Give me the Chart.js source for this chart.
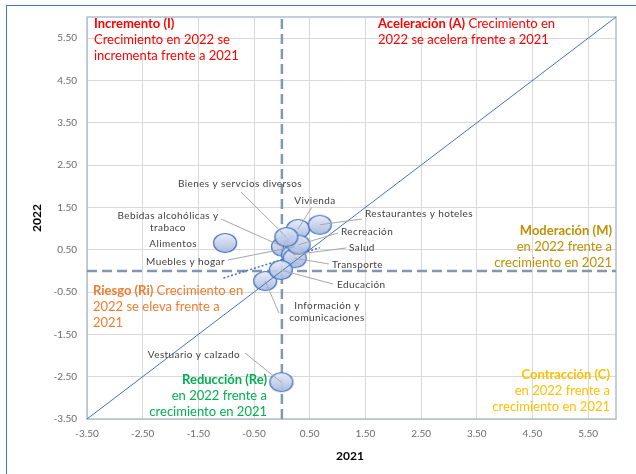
<!DOCTYPE html>
<html>
<head>
<meta charset="utf-8">
<script src="https://cdn.jsdelivr.net/npm/chart.js@4.4.0/dist/chart.umd.min.js"></script>
<style>
  html, body { margin: 0; padding: 0; background: #fff; overflow: hidden; }
  #wrap { position: relative; width: 636px; height: 474px; }
  #frame { position: absolute; left: 6px; top: 5px; width: 700px; height: 600px; border: 1px solid #4472c4; }
  canvas { position: absolute; left: 0; top: 0; }
</style>
</head>
<body>
<div id="wrap">
  <div id="frame"></div>
  <canvas id="chart" width="636" height="474"></canvas>
</div>
<script>
// data
const categories = [
  'Alimentos', 'Bebidas alcohólicas y trabaco', 'Vestuario y calzado', 'Vivienda',
  'Muebles y hogar', 'Salud', 'Transporte', 'Información y comunicaciones',
  'Recreación', 'Educación', 'Restaurantes y hoteles', 'Bienes y servcios diversos'
];
const growth2021 = [-1.02, 0.02, -0.01, 0.29, 0.23, 0.20, 0.23, -0.30, 0.30, -0.02, 0.68, 0.08];
const growth2022 = [0.66, 0.57, -2.63, 0.99, 0.57, 0.38, 0.30, -0.24, 0.62, 0.02, 1.09, 0.80];
const tickValues = [-3.5, -2.5, -1.5, -0.5, 0.5, 1.5, 2.5, 3.5, 4.5, 5.5];
const trendX = [-1.05, 0.68];
const trendY = [-0.17, 0.55];

const FONT = 'Lato, "Open Sans", sans-serif';

// label placement (pixels) for each category, same order as categories
const labelSpots = [
  { lines: ['Alimentos'], x: 197, y: 244, align: 'right' },
  { lines: ['Bebidas alcohólicas y', 'trabaco'], x: 168, y: 216, align: 'center', from: [221, 219] },
  { lines: ['Vestuario y calzado'], x: 240, y: 355, align: 'right', from: [245, 353] },
  { lines: ['Vivienda'], x: 315, y: 201, align: 'center', from: [312, 207] },
  { lines: ['Muebles y hogar'], x: 225, y: 262, align: 'right', from: [228, 260] },
  { lines: ['Salud'], x: 349, y: 248, align: 'left', from: [346, 248] },
  { lines: ['Transporte'], x: 332, y: 265, align: 'left', from: [329, 264] },
  { lines: ['Información y', 'comunicaciones'], x: 327, y: 306, align: 'center', from: [279, 313] },
  { lines: ['Recreación'], x: 341, y: 232, align: 'left', from: [338, 233] },
  { lines: ['Educación'], x: 337, y: 285, align: 'left', from: [333, 284] },
  { lines: ['Restaurantes y hoteles'], x: 365, y: 214, align: 'left', from: [362, 219] },
  { lines: ['Bienes y servcios diversos'], x: 240, y: 184, align: 'center', from: [241, 192] }
];

const quadrants = [
  { x: 94, y: 24, align: 'left', color: '#ff0000',
    lines: [[['Incremento (I)', true]], [['Crecimiento en 2022 se']], [['incrementa frente a 2021']]] },
  { x: 378, y: 24, align: 'left', color: '#ff0000',
    lines: [[['Aceleración (A)', true], [' Crecimiento en']], [['2022 se acelera frente a 2021']]] },
  { x: 612, y: 231, align: 'right', color: '#bf9000',
    lines: [[['Moderación (M)', true]], [['en 2022 frente a']], [['crecimiento en 2021']]] },
  { x: 93, y: 291, align: 'left', color: '#ed7d31',
    lines: [[['Riesgo (Ri)', true], [' Crecimiento en']], [['2022 se eleva frente a']], [['2021']]] },
  { x: 267, y: 380, align: 'right', color: '#00b050',
    lines: [[['Reducción (Re)', true]], [['en 2022 frente a']], [['crecimiento en 2021']]] },
  { x: 610, y: 375, align: 'right', color: '#ffc000',
    lines: [[['Contracción (C)', true]], [['en 2022 frente a']], [['crecimiento en 2021']]] }
];

function makeBubble() {
  const c = document.createElement('canvas');
  c.width = 26; c.height = 22;
  const g = c.getContext('2d');
  const grad = g.createLinearGradient(0, 1, 0, 21);
  grad.addColorStop(0, 'rgba(232,237,248,0.92)');
  grad.addColorStop(1, 'rgba(164,183,221,0.92)');
  g.beginPath();
  g.ellipse(13, 11, 11.5, 9.5, 0, 0, Math.PI * 2);
  g.fillStyle = grad;
  g.fill();
  g.lineWidth = 1.2;
  g.strokeStyle = '#4472c4';
  g.stroke();
  return c;
}

const quadPlugin = {
  id: 'quad',
  beforeDatasetsDraw(chart) {
    const { ctx, chartArea: a } = chart;
    ctx.save();
    ctx.strokeStyle = '#b0bed3';
    ctx.lineWidth = 1.5;
    ctx.strokeRect(a.left, a.top, a.right - a.left, a.bottom - a.top);
    ctx.restore();
  },
  afterDatasetsDraw(chart) {
    const { ctx } = chart;
    const xs = chart.scales.x, ys = chart.scales.y;
    ctx.save();

    // leader lines + labels
    ctx.font = '10px ' + FONT;
    ctx.letterSpacing = '0.4px';
    ctx.textBaseline = 'middle';
    labelSpots.forEach((s, i) => {
      if (s.from) {
        ctx.strokeStyle = '#a6a6a6';
        ctx.lineWidth = 1;
        ctx.beginPath();
        ctx.moveTo(s.from[0], s.from[1]);
        ctx.lineTo(xs.getPixelForValue(growth2021[i]), ys.getPixelForValue(growth2022[i]));
        ctx.stroke();
      }
      ctx.fillStyle = '#404040';
      ctx.textAlign = s.align;
      s.lines.forEach((t, k) => ctx.fillText(t, s.x, s.y + k * 12));
    });
    ctx.letterSpacing = '0px';

    // quadrant notes
    quadrants.forEach(q => {
      ctx.fillStyle = q.color;
      q.lines.forEach((parts, k) => {
        const y = q.y + k * 16;
        let w = 0;
        parts.forEach(p => {
          ctx.font = (p[1] ? 'bold ' : '') + '13px ' + FONT;
          w += ctx.measureText(p[0]).width;
        });
        let x = q.align === 'right' ? q.x - w : q.x;
        ctx.textAlign = 'left';
        parts.forEach(p => {
          ctx.font = (p[1] ? 'bold ' : '') + '13px ' + FONT;
          ctx.fillText(p[0], x, y);
          x += ctx.measureText(p[0]).width;
        });
      });
    });

    // axis titles
    ctx.fillStyle = '#000';
    ctx.font = 'bold 12px ' + FONT;
    ctx.textAlign = 'center';
    ctx.fillText('2021', 350, 456);
    ctx.translate(37, 218);
    ctx.rotate(-Math.PI / 2);
    ctx.fillText('2022', 0, 0);
    ctx.restore();
  }
};

const axisOpts = {
  type: 'linear',
  min: -3.5,
  max: 6,
  afterBuildTicks: s => { s.ticks = tickValues.map(v => ({ value: v })); },
  ticks: {
    callback: v => Number(v).toFixed(2),
    color: '#6b6b6b',
    font: { family: FONT, size: 10 },
    autoSkip: false,
    maxRotation: 0
  },
  grid: { color: '#d9d9d9', drawTicks: false },
  border: { display: false }
};

new Chart(document.getElementById('chart').getContext('2d'), {
  type: 'scatter',
  data: {
    datasets: [
      {
        data: [{ x: 0, y: -3.5 }, { x: 0, y: 6 }],
        showLine: true, pointRadius: 0, borderColor: '#8497b0', borderWidth: 2.5,
        borderDash: [10, 5], order: 5
      },
      {
        data: [{ x: -3.5, y: 0 }, { x: 6, y: 0 }],
        showLine: true, pointRadius: 0, borderColor: '#8497b0', borderWidth: 2.5,
        borderDash: [10, 5], order: 5
      },
      {
        data: trendX.map((x, i) => ({ x: x, y: trendY[i] })),
        showLine: true, pointRadius: 0, borderColor: '#4472c4', borderWidth: 1.5,
        borderDash: [2, 2], order: 4
      },
      {
        label: 'Divisiones',
        data: categories.map((c, i) => ({ x: growth2021[i], y: growth2022[i] })),
        pointStyle: makeBubble(),
        pointRadius: 11,
        order: 2
      },
      {
        data: [{ x: -3.5, y: -3.5 }, { x: 6, y: 6 }],
        showLine: true, pointRadius: 0, borderColor: '#4472c4', borderWidth: 1,
        order: 1
      }
    ]
  },
  options: {
    responsive: false,
    animation: false,
    layout: { padding: { top: 17, right: 20, left: 0, bottom: 0 } },
    plugins: { legend: { display: false }, tooltip: { enabled: false } },
    scales: {
      x: Object.assign({}, axisOpts, {
        ticks: Object.assign({}, axisOpts.ticks, { padding: 9 }),
        afterFit: s => { s.height = 55; }
      }),
      y: Object.assign({}, axisOpts, {
        ticks: Object.assign({}, axisOpts.ticks, { padding: 10 }),
        afterFit: s => { s.width = 87; }
      })
    }
  },
  plugins: [quadPlugin]
});
</script>
</body>
</html>
